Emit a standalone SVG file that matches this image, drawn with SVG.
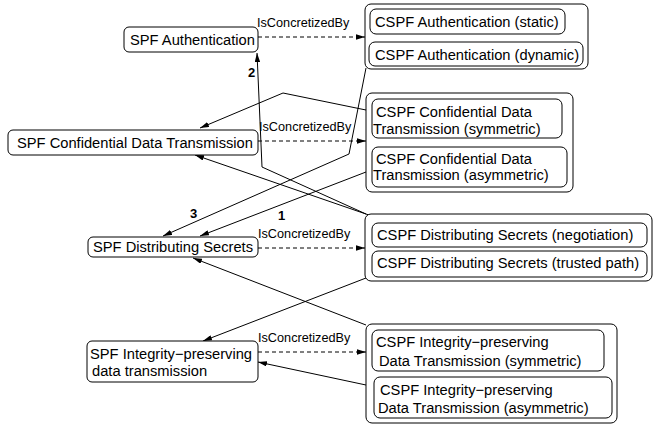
<svg xmlns="http://www.w3.org/2000/svg" width="656" height="425" viewBox="0 0 656 425">
  <defs>
    <marker id="arrow" viewBox="0 0 10 6" refX="10" refY="3" markerWidth="9" markerHeight="5.4" markerUnits="userSpaceOnUse" orient="auto">
      <path d="M0,0 L10,3 L0,6 z" fill="#000"/>
    </marker>
    <style>
      .box { fill: #fff; stroke: #000; stroke-width: 1; }
      .t { font-family: "Liberation Sans", Arial, sans-serif; font-size: 14.7px; fill: #000; }
      .lbl { font-family: "Liberation Sans", Arial, sans-serif; font-size: 12.7px; fill: #000; }
      .num { font-family: "Liberation Sans", Arial, sans-serif; font-size: 13px; font-weight: bold; fill: #000; }
      .link { fill: none; stroke: #000; stroke-width: 1; marker-end: url(#arrow); }
      .dash { fill: none; stroke: #000; stroke-width: 1; stroke-dasharray: 4 3; marker-end: url(#arrow); }
    </style>
  </defs>

  <rect width="656" height="425" fill="#fff"/>

  <!-- connectors -->
  <g id="connectors">
    <!-- realisation links (dashed) -->
    <line class="dash" x1="258" y1="37" x2="365" y2="37"/>
    <line class="dash" x1="258" y1="141" x2="366" y2="141"/>
    <line class="dash" x1="258" y1="248" x2="365" y2="248"/>
    <line class="dash" x1="258" y1="352" x2="366" y2="352"/>
    <text class="lbl" x="257" y="27">IsConcretizedBy</text>
    <text class="lbl" x="259" y="131">IsConcretizedBy</text>
    <text class="lbl" x="258" y="238">IsConcretizedBy</text>
    <text class="lbl" x="258" y="342">IsConcretizedBy</text>

    <!-- dependency links (solid) -->
    <polyline class="link" points="366,214 262,167 257,53"/>
    <polyline class="link" points="366,68 349,154 163,236"/>
    <polyline class="link" points="366,110 283,93 200,128"/>
    <line class="link" x1="366" y1="172" x2="200" y2="236"/>
    <line class="link" x1="392" y1="223" x2="195" y2="155"/>
    <line class="link" x1="366" y1="278" x2="203" y2="341"/>
    <line class="link" x1="366" y1="325" x2="193" y2="258"/>
    <line class="link" x1="366" y1="385" x2="258" y2="362"/>

    <text class="num" x="248" y="77">2</text>
    <text class="num" x="190" y="218">3</text>
    <text class="num" x="278" y="220">1</text>
  </g>

  <!-- abstract patterns -->
  <g id="spf-authentication">
    <rect class="box" x="124" y="27" width="134" height="25" rx="5"/>
    <text class="t" x="130" y="44.5">SPF Authentication</text>
  </g>
  <g id="spf-confidential">
    <rect class="box" x="8" y="130" width="250" height="25" rx="5"/>
    <text class="t" x="17" y="148">SPF Confidential Data Transmission</text>
  </g>
  <g id="spf-distributing">
    <rect class="box" x="88" y="237" width="170" height="20" rx="5"/>
    <text class="t" x="93" y="252">SPF Distributing Secrets</text>
  </g>
  <g id="spf-integrity">
    <rect class="box" x="87" y="341" width="171" height="41" rx="5"/>
    <text class="t" x="90" y="359">SPF Integrity−preserving</text>
    <text class="t" x="92" y="375.5">data transmission</text>
  </g>

  <!-- concrete pattern groups -->
  <g id="cspf-authentication">
    <rect class="box" x="365" y="4" width="223" height="65" rx="6"/>
    <rect class="box" x="370" y="9" width="195" height="25" rx="6"/>
    <text class="t" x="375" y="26.5">CSPF Authentication (static)</text>
    <rect class="box" x="369" y="42" width="214" height="24" rx="6"/>
    <text class="t" x="375" y="59.5">CSPF Authentication (dynamic)</text>
  </g>
  <g id="cspf-confidential">
    <rect class="box" x="366" y="93" width="207" height="99" rx="6"/>
    <rect class="box" x="372" y="99" width="190" height="39" rx="6"/>
    <text class="t" x="376" y="117">CSPF Confidential Data</text>
    <text class="t" x="373" y="133.5">Transmission (symmetric)</text>
    <rect class="box" x="372" y="147" width="195" height="40" rx="6"/>
    <text class="t" x="376" y="163.5">CSPF Confidential Data</text>
    <text class="t" x="373" y="180">Transmission (asymmetric)</text>
  </g>
  <g id="cspf-distributing">
    <rect class="box" x="365" y="214" width="287" height="67" rx="6"/>
    <rect class="box" x="372" y="223" width="275" height="24" rx="6"/>
    <text class="t" x="377" y="240">CSPF Distributing Secrets (negotiation)</text>
    <rect class="box" x="372" y="251" width="275" height="26" rx="6"/>
    <text class="t" x="377" y="268">CSPF Distributing Secrets (trusted path)</text>
  </g>
  <g id="cspf-integrity">
    <rect class="box" x="366" y="324" width="251" height="99" rx="6"/>
    <rect class="box" x="372" y="330" width="232" height="41" rx="6"/>
    <text class="t" x="376" y="347">CSPF Integrity−preserving</text>
    <text class="t" x="379" y="366">Data Transmission (symmetric)</text>
    <rect class="box" x="374" y="377" width="238" height="41" rx="6"/>
    <text class="t" x="380" y="395">CSPF Integrity−preserving</text>
    <text class="t" x="378" y="413">Data Transmission (asymmetric)</text>
  </g>
</svg>
